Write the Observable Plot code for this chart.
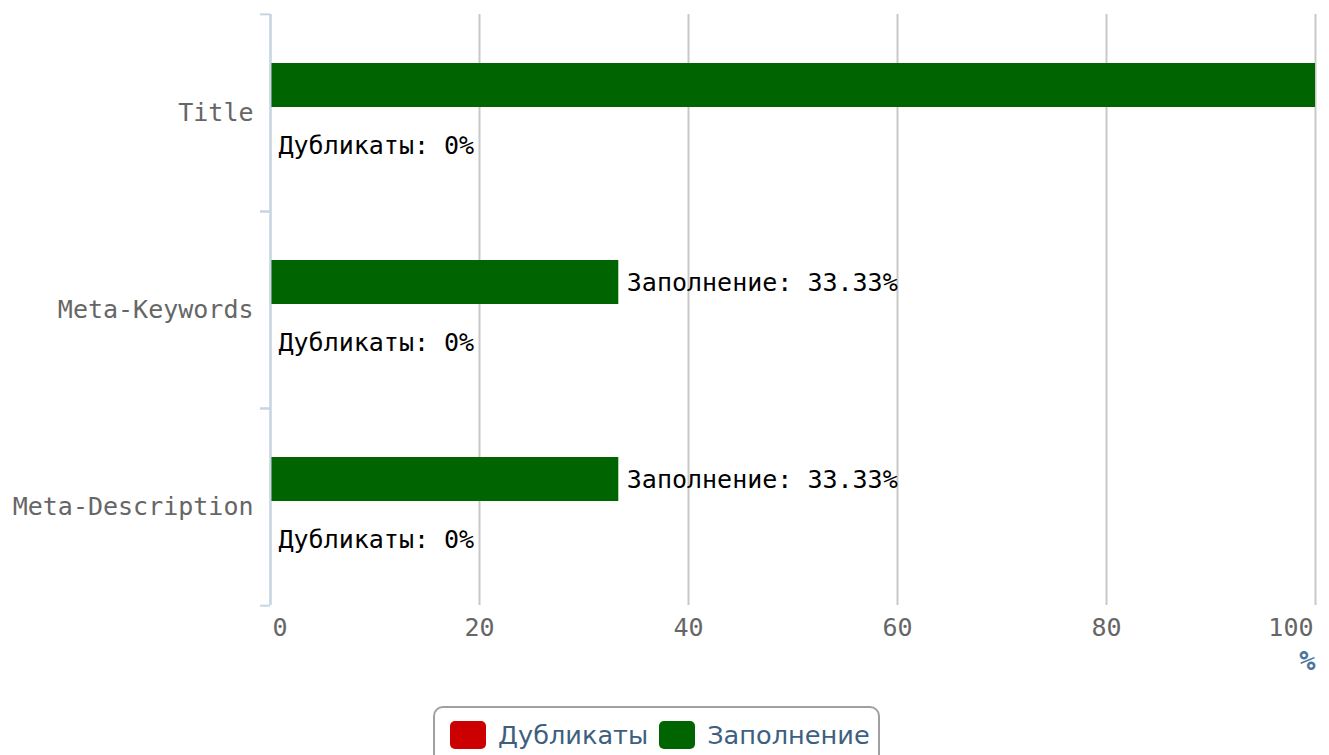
<!DOCTYPE html>
<html>
<head>
<meta charset="utf-8">
<script src="https://cdn.jsdelivr.net/npm/d3@7"></script>
<script src="https://cdn.jsdelivr.net/npm/@observablehq/plot@0.6"></script>
<style>
  html, body { margin: 0; padding: 0; background: #fff; }
  #chart svg { display: block; }
  #legend {
    position: absolute; left: 433px; top: 706px;
    box-sizing: border-box; height: 60px;
    border: 2px solid #a0a0a0; border-radius: 10px;
    padding: 12px 8px 0 15px;
    display: flex; align-items: flex-start;
    font-family: "DejaVu Sans", sans-serif; font-size: 25.6px; color: #3e5f80;
  }
  .item { display: flex; align-items: center; margin-right: 11px; }
  .item:last-child { margin-right: 0; }
  .sw { width: 36px; height: 28px; border-radius: 5px; margin-right: 12px; }
</style>
</head>
<body>
<div id="chart"></div>
<div id="legend"></div>
<script>
// ---- data ----
const categories = ["Title", "Meta-Keywords", "Meta-Description"];
const seriesNames = ["Дубликаты", "Заполнение"];
const duplicates = [0, 0, 0];
const filled = [100, 33.33, 33.33];
const xTicks = [0, 20, 40, 60, 80, 100];
const seriesColors = ["#cc0000", "#006400"];
const unitLabel = "%";

const rows = categories.flatMap((c, i) => [
  {category: c, series: seriesNames[1], value: filled[i]},
  {category: c, series: seriesNames[0], value: duplicates[i]}
]);

const W = 1329, H = 690, mt = 13, mb = 85, ml = 270, mr = 14;
const bw = (H - mt - mb) / categories.length;
const xMax = xTicks[xTicks.length - 1];
const mono = "DejaVu Sans Mono, monospace";

const chart = Plot.plot({
  width: W, height: H,
  marginTop: mt, marginBottom: mb, marginLeft: ml, marginRight: mr,
  style: {fontFamily: mono, background: "#fff"},
  x: {domain: [0, xMax]},
  fy: {domain: categories, padding: 0},
  y: {domain: [seriesNames[1], seriesNames[0]], paddingInner: 0.26, paddingOuter: 0.754, align: 0.53, axis: null},
  color: {domain: seriesNames, range: seriesColors},
  marks: [
    Plot.gridX(xTicks, {stroke: "#c8c8c8", strokeOpacity: 1, strokeWidth: 2}),
    Plot.barX(rows, {fy: "category", y: "series", x: "value", fill: "series"}),
    // labels whose text would fall outside the plot area are hidden (as in the reference)
    Plot.text(rows, {
      filter: d => d.value < xMax,
      fy: "category", y: "series", x: "value",
      text: d => `${d.series}: ${d.value}%`,
      textAnchor: "start", dx: 8,
      fontSize: 25, fill: "#000", fontFamily: mono
    }),
    Plot.ruleX([0], {stroke: "#c5d5e6", strokeWidth: 2}),
    Plot.axisFy({anchor: "left", tickSize: 0, tickPadding: 17, fontSize: 25, fill: "#666", label: null, fontFamily: mono}),
    Plot.axisFy({anchor: "left", tickSize: 10, tickFormat: () => "", stroke: "#c5d5e6", strokeWidth: 2, label: null, dy: -bw / 2}),
    Plot.axisFy([categories[categories.length - 1]], {anchor: "left", tickSize: 10, tickFormat: () => "", stroke: "#c5d5e6", strokeWidth: 2, label: null, dy: bw / 2}),
    Plot.axisX(xTicks.slice(1, -1), {anchor: "bottom", tickSize: 0, tickPadding: 13, fontSize: 25, fill: "#666", label: null, fontFamily: mono}),
    Plot.axisX(xTicks.slice(0, 1), {anchor: "bottom", tickSize: 0, tickPadding: 13, fontSize: 25, fill: "#666", label: null, fontFamily: mono, textAnchor: "start", dx: 2}),
    Plot.axisX(xTicks.slice(-1), {anchor: "bottom", tickSize: 0, tickPadding: 13, fontSize: 25, fill: "#666", label: null, fontFamily: mono, textAnchor: "end", dx: -2}),
    Plot.text([unitLabel], {
      fy: () => categories[categories.length - 1],
      frameAnchor: "bottom-right", textAnchor: "end", dy: 64,
      fontSize: 27, fontWeight: "bold", fill: "#4d759e", fontFamily: mono
    })
  ]
});
document.getElementById("chart").appendChild(chart);

const legend = document.getElementById("legend");
seriesNames.forEach((s, i) => {
  const item = document.createElement("div");
  item.className = "item";
  const sw = document.createElement("div");
  sw.className = "sw";
  sw.style.background = seriesColors[i];
  const t = document.createElement("span");
  t.textContent = s;
  item.appendChild(sw); item.appendChild(t);
  legend.appendChild(item);
});
</script>
</body>
</html>
